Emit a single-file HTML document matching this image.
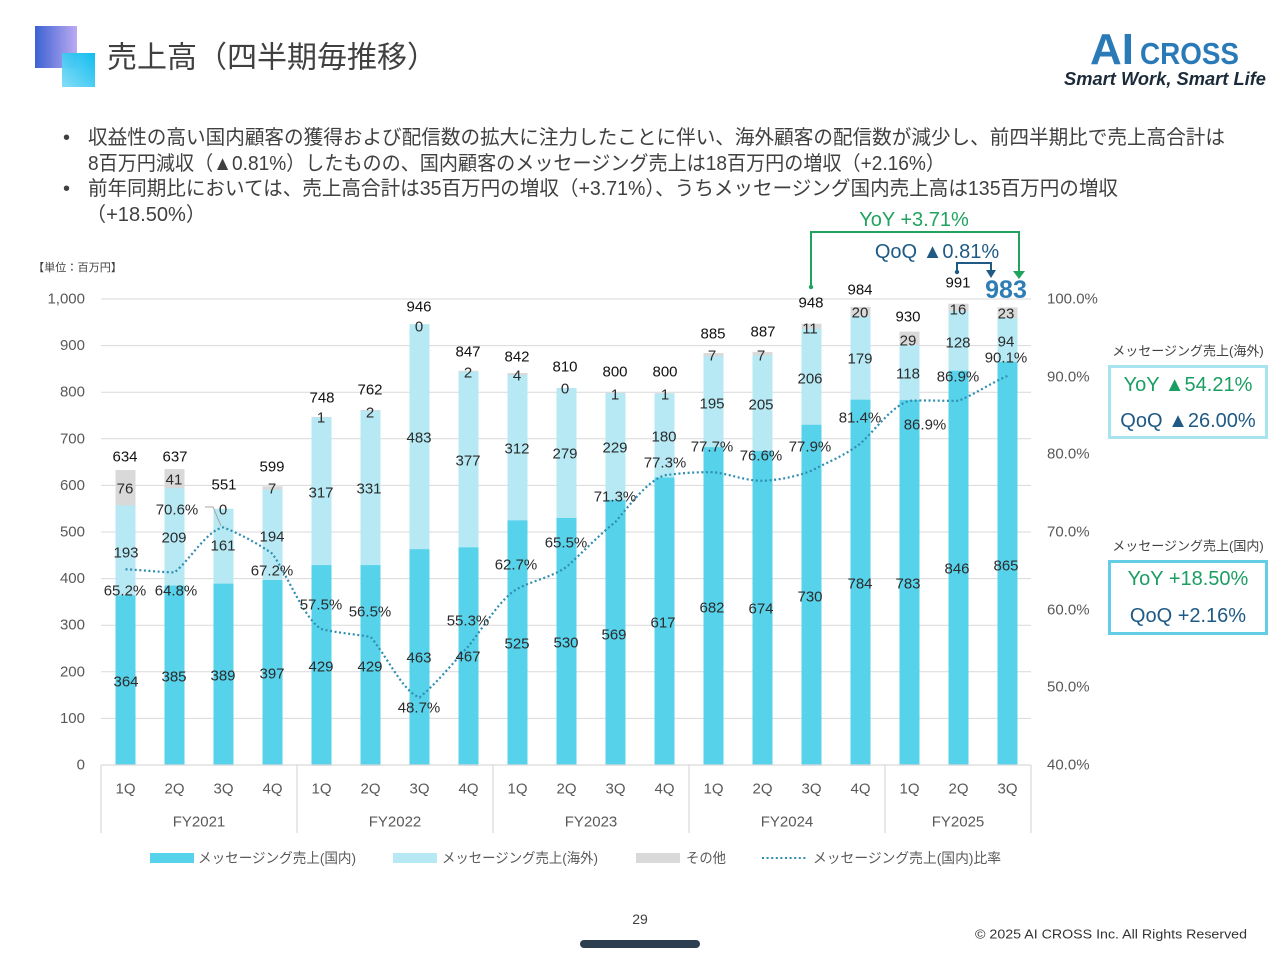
<!DOCTYPE html>
<html lang="ja">
<head>
<meta charset="utf-8">
<style>
html,body{margin:0;padding:0;background:#fff;}
body{width:1280px;height:960px;overflow:hidden;}
svg{display:block;}
text{font-family:"Liberation Sans","Noto Sans CJK JP",sans-serif;}
.ax{font-size:15px;fill:#595959;}
.tot{font-size:15px;fill:#111;text-anchor:middle;dominant-baseline:central;}
.lb{font-size:15px;fill:#2b2b2b;text-anchor:middle;dominant-baseline:central;}
.lg{font-size:14px;fill:#595959;dominant-baseline:central;}
</style>
</head>
<body>
<svg width="1280" height="960" viewBox="0 0 1280 960" xmlns="http://www.w3.org/2000/svg">
<defs>
<linearGradient id="g1" x1="0" y1="0" x2="1" y2="0">
<stop offset="0" stop-color="#3c62d2"/><stop offset="1" stop-color="#bcaaf2"/>
</linearGradient>
<linearGradient id="g2" x1="0" y1="1" x2="1" y2="0">
<stop offset="0" stop-color="#7fdcf6"/><stop offset="1" stop-color="#05b9ef"/>
</linearGradient>
</defs>

<!-- title icon -->
<rect x="35" y="26" width="42" height="42" fill="url(#g1)"/>
<rect x="62" y="53" width="33" height="34" fill="url(#g2)" opacity="0.95"/>
<text x="107" y="58" font-size="30" fill="#404040" dominant-baseline="central">売上高（四半期毎推移）</text>

<!-- logo -->
<text x="1090" y="64" font-size="44" font-weight="bold" fill="#2a7ab8" textLength="44" lengthAdjust="spacingAndGlyphs">AI</text>
<text x="1140" y="64" font-size="31" font-weight="bold" fill="#2a7ab8" textLength="99" lengthAdjust="spacingAndGlyphs">CROSS</text>
<text x="1064" y="85" font-size="18" font-weight="bold" font-style="italic" fill="#1c2b3a" textLength="202" lengthAdjust="spacingAndGlyphs">Smart Work, Smart Life</text>

<!-- bullets -->
<g font-size="20" fill="#404040" dominant-baseline="central">
<text x="63" y="138">•</text>
<text x="88" y="138" textLength="1137" lengthAdjust="spacingAndGlyphs">収益性の高い国内顧客の獲得および配信数の拡大に注力したことに伴い、海外顧客の配信数が減少し、前四半期比で売上高合計は</text>
<text x="88" y="164" textLength="857" lengthAdjust="spacingAndGlyphs">8百万円減収（▲0.81%）したものの、国内顧客のメッセージング売上は18百万円の増収（+2.16%）</text>
<text x="63" y="189">•</text>
<text x="88" y="189" textLength="1030" lengthAdjust="spacingAndGlyphs">前年同期比においては、売上高合計は35百万円の増収（+3.71%）、うちメッセージング国内売上高は135百万円の増収</text>
<text x="86" y="215" textLength="120" lengthAdjust="spacingAndGlyphs">（+18.50%）</text>
</g>

<text x="33" y="268" font-size="11" fill="#404040" dominant-baseline="central" textLength="89" lengthAdjust="spacingAndGlyphs">【単位：百万円】</text>

<!-- gridlines -->
<g stroke="#d9d9d9" stroke-width="1">
<line x1="101" x2="1031" y1="299" y2="299"/>
<line x1="101" x2="1031" y1="345.6" y2="345.6"/>
<line x1="101" x2="1031" y1="392.2" y2="392.2"/>
<line x1="101" x2="1031" y1="438.8" y2="438.8"/>
<line x1="101" x2="1031" y1="485.4" y2="485.4"/>
<line x1="101" x2="1031" y1="532" y2="532"/>
<line x1="101" x2="1031" y1="578.6" y2="578.6"/>
<line x1="101" x2="1031" y1="625.2" y2="625.2"/>
<line x1="101" x2="1031" y1="671.8" y2="671.8"/>
<line x1="101" x2="1031" y1="718.4" y2="718.4"/>
</g>

<!-- left axis labels -->
<g class="ax" text-anchor="end" dominant-baseline="central">
<text x="85" y="299">1,000</text>
<text x="85" y="345.6">900</text>
<text x="85" y="392.2">800</text>
<text x="85" y="438.8">700</text>
<text x="85" y="485.4">600</text>
<text x="85" y="532">500</text>
<text x="85" y="578.6">400</text>
<text x="85" y="625.2">300</text>
<text x="85" y="671.8">200</text>
<text x="85" y="718.4">100</text>
<text x="85" y="765">0</text>
</g>
<!-- right axis labels -->
<g class="ax" dominant-baseline="central">
<text x="1047" y="299">100.0%</text>
<text x="1047" y="377">90.0%</text>
<text x="1047" y="454">80.0%</text>
<text x="1047" y="532">70.0%</text>
<text x="1047" y="610">60.0%</text>
<text x="1047" y="687">50.0%</text>
<text x="1047" y="765">40.0%</text>
</g>

<!-- bars: other (gray) full stack, overseas, domestic -->
<g>
<!-- gray (total incl other) -->
<g fill="#d9d9d9">
<rect x="115.5" y="470.0" width="20" height="295"/>
<rect x="164.5" y="469.1" width="20" height="296"/>
<rect x="262.5" y="486.3" width="20" height="279"/>
<rect x="311.5" y="416.9" width="20" height="349"/>
<rect x="360.5" y="409.9" width="20" height="356"/>
<rect x="458.5" y="370.8" width="20" height="395"/>
<rect x="507.5" y="373.1" width="20" height="392"/>
<rect x="605.5" y="392.7" width="20" height="373"/>
<rect x="654.5" y="393.1" width="20" height="372"/>
<rect x="703.5" y="353.1" width="20" height="412"/>
<rect x="752.5" y="352.1" width="20" height="413"/>
<rect x="801.5" y="323.7" width="20" height="442"/>
<rect x="850.5" y="306.9" width="20" height="459"/>
<rect x="899.5" y="331.6" width="20" height="434"/>
<rect x="948.5" y="303.7" width="20" height="462"/>
<rect x="997.5" y="307.4" width="20" height="458"/>
</g>
<g fill="#b6e9f4">
<rect x="115.5" y="505.4" width="20" height="260"/>
<rect x="164.5" y="488.2" width="20" height="277"/>
<rect x="213.5" y="508.7" width="20" height="257"/>
<rect x="262.5" y="489.6" width="20" height="276"/>
<rect x="311.5" y="417.4" width="20" height="348"/>
<rect x="360.5" y="410.8" width="20" height="355"/>
<rect x="409.5" y="324.2" width="20" height="441"/>
<rect x="458.5" y="371.7" width="20" height="394"/>
<rect x="507.5" y="375.0" width="20" height="390"/>
<rect x="556.5" y="388.0" width="20" height="377"/>
<rect x="605.5" y="393.1" width="20" height="372"/>
<rect x="654.5" y="393.6" width="20" height="372"/>
<rect x="703.5" y="356.3" width="20" height="409"/>
<rect x="752.5" y="355.4" width="20" height="410"/>
<rect x="801.5" y="328.8" width="20" height="437"/>
<rect x="850.5" y="316.2" width="20" height="449"/>
<rect x="899.5" y="345.1" width="20" height="420"/>
<rect x="948.5" y="311.1" width="20" height="454"/>
<rect x="997.5" y="318.1" width="20" height="447"/>
</g>
<g fill="#56d2ea">
<rect x="115.5" y="595.4" width="20" height="169.6"/>
<rect x="164.5" y="585.6" width="20" height="179.4"/>
<rect x="213.5" y="583.7" width="20" height="181.3"/>
<rect x="262.5" y="580.0" width="20" height="185"/>
<rect x="311.5" y="565.1" width="20" height="199.9"/>
<rect x="360.5" y="565.1" width="20" height="199.9"/>
<rect x="409.5" y="549.2" width="20" height="215.8"/>
<rect x="458.5" y="547.4" width="20" height="217.6"/>
<rect x="507.5" y="520.4" width="20" height="244.6"/>
<rect x="556.5" y="518.0" width="20" height="247"/>
<rect x="605.5" y="499.9" width="20" height="265.1"/>
<rect x="654.5" y="477.5" width="20" height="287.5"/>
<rect x="703.5" y="447.2" width="20" height="317.8"/>
<rect x="752.5" y="450.9" width="20" height="314.1"/>
<rect x="801.5" y="424.8" width="20" height="340.2"/>
<rect x="850.5" y="399.7" width="20" height="365.3"/>
<rect x="899.5" y="400.1" width="20" height="364.9"/>
<rect x="948.5" y="370.8" width="20" height="394.2"/>
<rect x="997.5" y="361.9" width="20" height="403.1"/>
</g>
</g>

<!-- x axis -->
<g stroke="#d9d9d9" stroke-width="1.2">
<line x1="101" x2="1031" y1="765" y2="765"/>
<line x1="101" x2="101" y1="765" y2="833"/>
<line x1="297" x2="297" y1="765" y2="833"/>
<line x1="493" x2="493" y1="765" y2="833"/>
<line x1="689" x2="689" y1="765" y2="833"/>
<line x1="885" x2="885" y1="765" y2="833"/>
<line x1="1031" x2="1031" y1="765" y2="833"/>
</g>
<g class="ax" text-anchor="middle" dominant-baseline="central">
<text x="125.5" y="789">1Q</text><text x="174.5" y="789">2Q</text><text x="223.5" y="789">3Q</text><text x="272.5" y="789">4Q</text>
<text x="321.5" y="789">1Q</text><text x="370.5" y="789">2Q</text><text x="419.5" y="789">3Q</text><text x="468.5" y="789">4Q</text>
<text x="517.5" y="789">1Q</text><text x="566.5" y="789">2Q</text><text x="615.5" y="789">3Q</text><text x="664.5" y="789">4Q</text>
<text x="713.5" y="789">1Q</text><text x="762.5" y="789">2Q</text><text x="811.5" y="789">3Q</text><text x="860.5" y="789">4Q</text>
<text x="909.5" y="789">1Q</text><text x="958.5" y="789">2Q</text><text x="1007.5" y="789">3Q</text>
<text x="199" y="822">FY2021</text>
<text x="395" y="822">FY2022</text>
<text x="591" y="822">FY2023</text>
<text x="787" y="822">FY2024</text>
<text x="958" y="822">FY2025</text>
</g>

<!-- ratio line -->
<path d="M125.5,569.3 C142,570 158,572 174.5,572.4 C190,560 207,530 223.5,527.4 C240,534 257,543 272.5,553.8 C289,578 305,620 321.5,629.1 C338,633 354,634 370.5,636.9 C387,656 403,692 419.5,697.4 C436,684 452,664 468.5,646.2 C485,625 501,598 517.5,588.7 C534,580 550,578 566.5,567 C583,552 599,535 615.5,521.9 C632,502 648,481 664.5,475.3 C681,473 697,472 713.5,472.2 C730,474 746,481 762.5,480.8 C779,480 795,477 811.5,470.7 C828,462 844,456 860.5,443.5 C877,428 893,405 909.5,400.8 C926,400 942,401 958.5,400.8 C975,394 991,383 1007.5,375.9" fill="none" stroke="#2f8db0" stroke-width="2.2" stroke-dasharray="2 2.6"/>
<path d="M205,507 H213 L221,526" fill="none" stroke="#a6a6a6" stroke-width="1"/>

<!-- total labels -->
<g class="tot">
<text x="125" y="457">634</text><text x="175" y="457">637</text><text x="224" y="485">551</text><text x="272" y="467">599</text>
<text x="322" y="398">748</text><text x="370" y="390">762</text><text x="419" y="307">946</text><text x="468" y="352">847</text>
<text x="517" y="357">842</text><text x="565" y="367">810</text><text x="615" y="372">800</text><text x="665" y="372">800</text>
<text x="713" y="334">885</text><text x="763" y="332">887</text><text x="811" y="303">948</text><text x="860" y="290">984</text>
<text x="908" y="317">930</text><text x="958" y="283">991</text>
</g>
<text x="1006" y="290" font-size="25" font-weight="bold" fill="#2e7db5" text-anchor="middle" dominant-baseline="central">983</text>

<!-- other labels -->
<g class="lb">
<text x="125" y="489">76</text><text x="174" y="480">41</text><text x="223" y="510">0</text><text x="272" y="489">7</text>
<text x="321" y="418">1</text><text x="370" y="413">2</text><text x="419" y="327">0</text><text x="468" y="373">2</text>
<text x="517" y="376">4</text><text x="565" y="389">0</text><text x="615" y="395">1</text><text x="665" y="395">1</text>
<text x="712" y="356">7</text><text x="761" y="356">7</text><text x="810" y="329">11</text><text x="860" y="313">20</text>
<text x="908" y="341">29</text><text x="958" y="310">16</text><text x="1006" y="314">23</text>
</g>
<!-- overseas labels -->
<g class="lb">
<text x="126" y="553">193</text><text x="174" y="538">209</text><text x="223" y="546">161</text><text x="272" y="537">194</text>
<text x="321" y="493">317</text><text x="369" y="489">331</text><text x="419" y="438">483</text><text x="468" y="461">377</text>
<text x="517" y="449">312</text><text x="565" y="454">279</text><text x="615" y="448">229</text><text x="664" y="437">180</text>
<text x="712" y="404">195</text><text x="761" y="405">205</text><text x="810" y="379">206</text><text x="860" y="359">179</text>
<text x="908" y="374">118</text><text x="958" y="343">128</text><text x="1006" y="342">94</text>
</g>
<!-- domestic labels -->
<g class="lb">
<text x="126" y="682">364</text><text x="174" y="677">385</text><text x="223" y="676">389</text><text x="272" y="674">397</text>
<text x="321" y="667">429</text><text x="370" y="667">429</text><text x="419" y="658">463</text><text x="468" y="657">467</text>
<text x="517" y="644">525</text><text x="566" y="643">530</text><text x="614" y="635">569</text><text x="663" y="623">617</text>
<text x="712" y="608">682</text><text x="761" y="609">674</text><text x="810" y="597">730</text><text x="860" y="584">784</text>
<text x="908" y="584">783</text><text x="957" y="569">846</text><text x="1006" y="566">865</text>
</g>
<!-- ratio labels -->
<g class="lb">
<text x="125" y="591">65.2%</text><text x="176" y="591">64.8%</text><text x="177" y="510">70.6%</text><text x="272" y="571">67.2%</text>
<text x="321" y="605">57.5%</text><text x="370" y="612">56.5%</text><text x="419" y="708">48.7%</text><text x="468" y="621">55.3%</text>
<text x="516" y="565">62.7%</text><text x="566" y="543">65.5%</text><text x="615" y="497">71.3%</text><text x="665" y="463">77.3%</text>
<text x="712" y="447">77.7%</text><text x="761" y="456">76.6%</text><text x="810" y="447">77.9%</text><text x="860" y="418">81.4%</text>
<text x="925" y="425">86.9%</text><text x="958" y="377">86.9%</text><text x="1006" y="358">90.1%</text>
</g>

<!-- YoY / QoQ annotation -->
<path d="M811,287 V232 H1019 V272" fill="none" stroke="#1fa35e" stroke-width="2"/>
<circle cx="811" cy="287" r="2.2" fill="#1fa35e"/>
<polygon points="1013,271 1025,271 1019,279" fill="#1fa35e"/>
<text x="914" y="220" font-size="20" fill="#1fa35e" text-anchor="middle" dominant-baseline="central">YoY +3.71%</text>
<path d="M957,272 V263 H991 V271" fill="none" stroke="#1f5a85" stroke-width="2"/>
<circle cx="957" cy="272" r="2.2" fill="#1f5a85"/>
<polygon points="986,270 996,270 991,278" fill="#1f5a85"/>
<text x="937" y="252" font-size="20" fill="#1f5a85" text-anchor="middle" dominant-baseline="central">QoQ ▲0.81%</text>

<!-- right boxes -->
<text x="1188" y="351" font-size="13" fill="#404040" text-anchor="middle" dominant-baseline="central">メッセージング売上(海外)</text>
<rect x="1109.5" y="366.5" width="157" height="71" fill="#fff" stroke="#a8e3f0" stroke-width="3"/>
<text x="1188" y="385" font-size="20" fill="#1b9e62" text-anchor="middle" dominant-baseline="central">YoY ▲54.21%</text>
<text x="1188" y="421" font-size="20" fill="#1f5a85" text-anchor="middle" dominant-baseline="central">QoQ ▲26.00%</text>
<text x="1188" y="546" font-size="13" fill="#404040" text-anchor="middle" dominant-baseline="central">メッセージング売上(国内)</text>
<rect x="1109.5" y="561.5" width="157" height="72" fill="#fff" stroke="#62cde4" stroke-width="3"/>
<text x="1188" y="579" font-size="20" fill="#1b9e62" text-anchor="middle" dominant-baseline="central">YoY +18.50%</text>
<text x="1188" y="616" font-size="20" fill="#1f5a85" text-anchor="middle" dominant-baseline="central">QoQ +2.16%</text>

<!-- legend -->
<rect x="150" y="853" width="44" height="10" fill="#56d2ea"/>
<text x="198" y="858" class="lg" textLength="158" lengthAdjust="spacingAndGlyphs">メッセージング売上(国内)</text>
<rect x="393" y="853" width="44" height="10" fill="#b6e9f4"/>
<text x="442" y="858" class="lg" textLength="156" lengthAdjust="spacingAndGlyphs">メッセージング売上(海外)</text>
<rect x="636" y="853" width="44" height="10" fill="#d9d9d9"/>
<text x="686" y="858" class="lg" textLength="40" lengthAdjust="spacingAndGlyphs">その他</text>
<line x1="762" x2="808" y1="858" y2="858" stroke="#2f8db0" stroke-width="2" stroke-dasharray="2 2.6"/>
<text x="813" y="858" class="lg" textLength="188" lengthAdjust="spacingAndGlyphs">メッセージング売上(国内)比率</text>

<!-- footer -->
<text x="640" y="919" font-size="14" fill="#404040" text-anchor="middle" dominant-baseline="central">29</text>
<rect x="580" y="940" width="120" height="8" rx="4" fill="#2c3e50"/>
<text x="1247" y="934" font-size="13" fill="#333" text-anchor="end" dominant-baseline="central" textLength="272" lengthAdjust="spacingAndGlyphs">© 2025 AI CROSS Inc. All Rights Reserved</text>
</svg>
</body>
</html>
